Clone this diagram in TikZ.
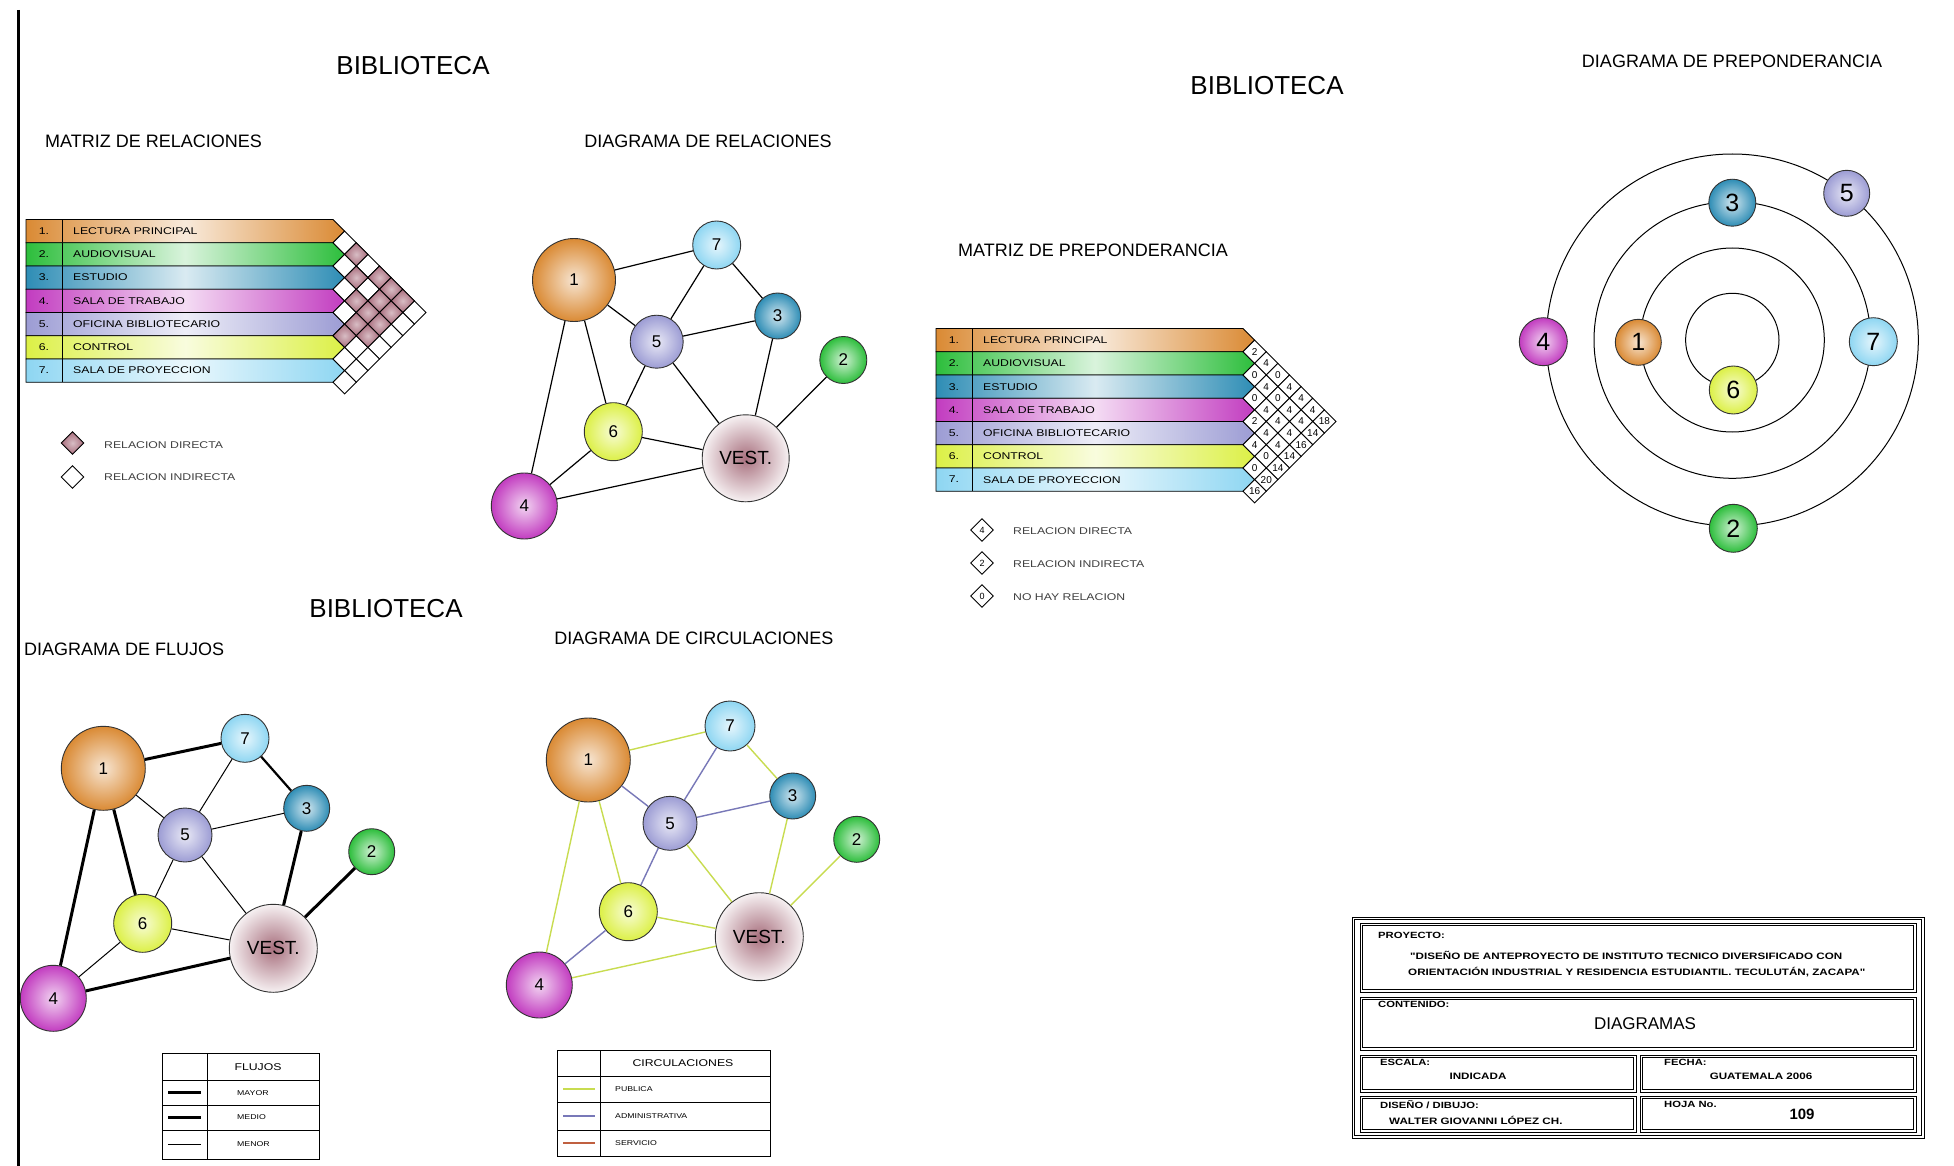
\documentclass[tikz,border=0pt]{standalone}
\usepackage{fontspec}
\setmainfont{Liberation Sans}
\newfontfamily\widefont[FakeStretch=1.25]{Liberation Sans}
\usetikzlibrary{shapes.geometric}
\definecolor{c1}{HTML}{DA8A34}
\definecolor{c2}{HTML}{2DBE3C}
\definecolor{c3}{HTML}{2E8DB5}
\definecolor{c4}{HTML}{C23CC0}
\definecolor{c5}{HTML}{9C9CD4}
\definecolor{c6}{HTML}{DCF046}
\definecolor{c7}{HTML}{8ED6F2}
\definecolor{vestc}{HTML}{A8707E}
\definecolor{pinkc}{HTML}{A86C7C}
\definecolor{pubc}{HTML}{C8DC50}
\definecolor{admc}{HTML}{7878B8}
\definecolor{serc}{HTML}{C06040}
\tikzset{
  ball/.style={circle, draw=black!80, line width=0.9pt, inner sep=0pt, inner color=#1!22!white, outer color=#1},
  vest/.style={circle, draw=black!80, line width=0.9pt, inner sep=0pt, inner color=vestc, outer color=vestc!10!white, font=\fontsize{19pt}{21pt}\selectfont},
  rnum/.style={font=\fontsize{17pt}{19pt}\selectfont},
  pnum/.style={font=\fontsize{25pt}{27pt}\selectfont},
  titletxt/.style={font=\fontsize{26pt}{30pt}\selectfont, inner sep=0pt},
  subtxt/.style={font=\fontsize{18pt}{21pt}\selectfont, inner sep=0pt},
  rowtxt/.style={font=\widefont\fontsize{9.8pt}{11pt}\selectfont, inner sep=0pt},
  legtxt/.style={font=\widefont\fontsize{9.8pt}{11pt}\selectfont, inner sep=0pt, text=black!75, anchor=west},
  tblline/.style={draw=black, line width=0.9pt},
  rel/.style={line width=1.2pt},
  mayor/.style={line width=3pt},
  medio/.style={line width=2.2pt},
  menor/.style={line width=1pt},
  pub/.style={draw=pubc, line width=1.4pt},
  adm/.style={draw=admc, line width=1.4pt},
  ser/.style={draw=serc, line width=1.4pt},
  tbline/.style={draw=black, line width=1pt},
  tbs/.style={font=\widefont\bfseries\fontsize{9pt}{10pt}\selectfont, inner sep=0pt, anchor=west},
  tbm/.style={font=\widefont\bfseries\fontsize{9.3pt}{11pt}\selectfont, inner sep=0pt},
  cellnum/.style={font=\fontsize{10pt}{11pt}\selectfont, inner sep=0pt},
  legdia/.style={diamond, draw=black, line width=0.9pt, minimum size=23pt, inner sep=0pt, aspect=1, font=\fontsize{9pt}{10pt}\selectfont},
  smalltxt/.style={font=\widefont\fontsize{7pt}{8pt}\selectfont, inner sep=0pt, anchor=west},
}
% row table: #1 left x, #2 top y, #3 name prefix
\newcommand{\rowtable}[3]{%
  \foreach \i/\nm/\cl in {1/LECTURA PRINCIPAL/c1, 2/AUDIOVISUAL/c2, 3/ESTUDIO/c3, 4/SALA DE TRABAJO/c4, 5/OFICINA BIBLIOTECARIO/c5, 6/CONTROL/c6, 7/SALA DE PROYECCION/c7}{
    \pgfmathsetmacro\yt{#2+(\i-1)*23.25}
    \pgfmathsetmacro\yb{\yt+23.25}
    \pgfmathsetmacro\ym{\yt+11.625}
    \pgfmathsetmacro\xr{#1+307}
    \pgfmathsetmacro\xt{\xr+11.625}
    \shade[left color=\cl, right color=\cl, middle color=\cl!18!white] (#1,\yt) -- (\xr,\yt) -- (\xt,\ym) -- (\xr,\yb) -- (#1,\yb) -- cycle;
    \draw[tblline] (#1,\yt) -- (\xr,\yt) -- (\xt,\ym) -- (\xr,\yb) -- (#1,\yb) -- cycle;
    \draw[tblline] (#1+36.7,\yt) -- (#1+36.7,\yb);
    \node[rowtxt] (#3n\i) at (#1+18,\ym) {\i.};
    \node[rowtxt, anchor=west] (#3t\i) at (#1+47,\ym) {\nm};
  }
}
% diamond grid: #1 x0, #2 top
\newcommand{\diagrid}[2]{%
  \foreach \i in {1,...,7}{
    \pgfmathtruncatemacro\js{\i+1}
    \foreach \j in {\js,...,8}{
      \pgfmathsetmacro\cx{#1+(\j-\i)*11.625}
      \pgfmathsetmacro\cy{#2+(\i+\j-1)*11.625}
      \draw[tblline, fill=white] (\cx-11.625,\cy) -- (\cx,\cy-11.625) -- (\cx+11.625,\cy) -- (\cx,\cy+11.625) -- cycle;
    }
  }
}
% double-lined box
\newcommand{\dbox}[4]{%
  \draw[tbline] (#1,#2) rectangle (#3,#4);
  \draw[tbline] (#1+2.6,#2+2.6) rectangle (#3-2.6,#4-2.6);
}
\begin{document}
\begin{tikzpicture}[x=1pt,y=-1pt]
\fill[white] (0,0) rectangle (1954,1166);
\useasboundingbox (0,0) rectangle (1954,1166);

\draw[line width=2.6pt] (18.5,10) -- (18.5,1166);

% titles
\node[titletxt] (t1) at (413,66) {BIBLIOTECA};
\node[titletxt] (t2) at (1267,86) {BIBLIOTECA};
\node[titletxt] (t3) at (386,609) {BIBLIOTECA};
\node[subtxt, anchor=west] (s1) at (45,141) {MATRIZ DE RELACIONES};
\node[subtxt] (s2) at (708,141) {DIAGRAMA DE RELACIONES};
\node[subtxt] (s3) at (1732,61) {DIAGRAMA DE PREPONDERANCIA};
\node[subtxt] (s4) at (1093,250.5) {MATRIZ DE PREPONDERANCIA};
\node[subtxt, anchor=west] (s5) at (24,649) {DIAGRAMA DE FLUJOS};
\node[subtxt] (s6) at (694,638) {DIAGRAMA DE CIRCULACIONES};

% ---------- matriz de relaciones ----------
\rowtable{26}{219.5}{ra}
\diagrid{333}{219.5}
\foreach \i/\j in {1/3,1/5,1/6,1/7,2/4,2/6,2/7,3/5,3/6,3/7,4/6,4/7,5/6}{
  \pgfmathsetmacro\cx{333+(\j-\i)*11.625}
  \pgfmathsetmacro\cy{219.5+(\i+\j-1)*11.625}
  \draw[tblline, inner color=pinkc!45!white, outer color=pinkc] (\cx-11.625,\cy) -- (\cx,\cy-11.625) -- (\cx+11.625,\cy) -- (\cx,\cy+11.625) -- cycle;
}
\node[legdia, inner color=pinkc!45!white, outer color=pinkc] (lg1) at (72.5,443) {};
\node[legdia] (lg2) at (72.5,477) {};
\node[legtxt] (lt1) at (104,445) {RELACION DIRECTA};
\node[legtxt] (lt2) at (104,477) {RELACION INDIRECTA};

% ---------- matriz de preponderancia ----------
\rowtable{936}{328.5}{pa}
\diagrid{1243}{328.5}
\foreach \i/\j/\v in {1/2/2,1/3/4,1/4/0,1/5/4,1/6/4,1/7/4,1/8/18,
  2/3/0,2/4/4,2/5/0,2/6/4,2/7/4,2/8/14,
  3/4/0,3/5/4,3/6/4,3/7/4,3/8/16,
  4/5/2,4/6/4,4/7/4,4/8/14,
  5/6/4,5/7/0,5/8/14,
  6/7/0,6/8/20,
  7/8/16}{
  \pgfmathsetmacro\cx{1243+(\j-\i)*11.625}
  \pgfmathsetmacro\cy{328.5+(\i+\j-1)*11.625}
  \node[cellnum] (pv\i\j) at (\cx,\cy) {\v};
}
\node[legdia] (pl1) at (982,530) {4};
\node[legdia] (pl2) at (982,563) {2};
\node[legdia] (pl3) at (982,596) {0};
\node[legtxt] (plt1) at (1013,531) {RELACION DIRECTA};
\node[legtxt] (plt2) at (1013,564) {RELACION INDIRECTA};
\node[legtxt] (plt3) at (1013,597) {NO HAY RELACION};

% ---------- diagrama de relaciones ----------
\node[ball=c1, minimum size=83pt, rnum] (r1) at (574,280) {1};
\node[ball=c7, minimum size=48pt, rnum] (r7) at (716.7,245) {7};
\node[ball=c3, minimum size=46pt, rnum] (r3) at (777.7,316) {3};
\node[ball=c5, minimum size=53pt, rnum] (r5) at (656.7,341.7) {5};
\node[ball=c2, minimum size=47pt, rnum] (r2) at (843.3,360) {2};
\node[ball=c6, minimum size=58pt, rnum] (r6) at (613.3,431.7) {6};
\node[vest, minimum size=87pt] (rv) at (745.7,458.3) {VEST.};
\node[ball=c4, minimum size=66pt, rnum] (r4) at (524.3,506) {4};
\foreach \a/\b in {r1/r7,r1/r5,r1/r6,r1/r4,r7/r5,r7/r3,r5/r3,r5/r6,r5/rv,r3/rv,r2/rv,r6/rv,r6/r4,r4/rv}
  \draw[rel] (\a) -- (\b);

% ---------- diagrama de flujos ----------
\node[ball=c1, minimum size=84pt, rnum] (f1) at (103.3,768.3) {1};
\node[ball=c7, minimum size=48pt, rnum] (f7) at (245,738.3) {7};
\node[ball=c3, minimum size=46pt, rnum] (f3) at (306.7,808.3) {3};
\node[ball=c5, minimum size=54pt, rnum] (f5) at (185,835) {5};
\node[ball=c2, minimum size=46pt, rnum] (f2) at (371.7,851.7) {2};
\node[ball=c6, minimum size=58pt, rnum] (f6) at (142.7,923.3) {6};
\node[vest, minimum size=88pt] (fv) at (273.3,948.3) {VEST.};
\node[ball=c4, minimum size=66pt, rnum] (f4) at (53.3,998.3) {4};
\foreach \a/\b in {f1/f7,f1/f4,f1/f6,f3/fv,fv/f2,fv/f4}
  \draw[mayor] (\a) -- (\b);
\foreach \a/\b in {f7/f3}
  \draw[medio] (\a) -- (\b);
\foreach \a/\b in {f1/f5,f7/f5,f5/f3,f5/f6,f5/fv,f6/fv,f6/f4}
  \draw[menor] (\a) -- (\b);

% ---------- diagrama de circulaciones ----------
\node[ball=c1, minimum size=84pt, rnum] (ci1) at (588.3,760) {1};
\node[ball=c7, minimum size=50pt, rnum] (ci7) at (730,726) {7};
\node[ball=c3, minimum size=46pt, rnum] (ci3) at (792.7,796) {3};
\node[ball=c5, minimum size=54pt, rnum] (ci5) at (670,823.3) {5};
\node[ball=c2, minimum size=46pt, rnum] (ci2) at (856.7,839.3) {2};
\node[ball=c6, minimum size=58pt, rnum] (ci6) at (628.3,911.7) {6};
\node[vest, minimum size=88pt] (civ) at (759.3,936.7) {VEST.};
\node[ball=c4, minimum size=66pt, rnum] (ci4) at (539.3,985) {4};
\foreach \a/\b in {ci1/ci7,ci7/ci3,ci1/ci6,ci1/ci4,ci5/civ,ci3/civ,ci2/civ,ci6/civ,ci4/civ}
  \draw[pub] (\a) -- (\b);
\foreach \a/\b in {ci1/ci5,ci7/ci5,ci5/ci3,ci5/ci6,ci6/ci4}
  \draw[adm] (\a) -- (\b);

% ---------- diagrama de preponderancia ----------
\coordinate (pc) at (1732.3,340);
\foreach \r in {46.7,92,138.3,186}
  \draw[line width=1pt] (pc) circle[radius=\r];
\node[ball=c3, minimum size=47pt, pnum] (p3) at (1732.3,202.7) {3};
\node[ball=c5, minimum size=46pt, pnum] (p5) at (1846.7,193.3) {5};
\node[ball=c4, minimum size=48pt, pnum] (p4) at (1543.3,341.7) {4};
\node[ball=c1, minimum size=46pt, pnum] (p1) at (1638.3,342.3) {1};
\node[ball=c7, minimum size=48pt, pnum] (p7) at (1873.3,341.7) {7};
\node[ball=c6, minimum size=48pt, pnum] (p6) at (1733.3,390) {6};
\node[ball=c2, minimum size=48pt, pnum] (p2) at (1733.3,528.3) {2};

% ---------- tabla flujos ----------
\draw[tblline] (162,1053) rectangle (319,1159);
\draw[tblline] (207,1053) -- (207,1159);
\foreach \y in {1080.5,1105,1130} \draw[tblline] (162,\y) -- (319,\y);
\node[rowtxt] (fh) at (258,1067) {FLUJOS};
\draw[mayor] (168,1092.7) -- (201,1092.7);
\draw[medio] (168,1117.5) -- (201,1117.5);
\draw[menor] (168,1144.5) -- (201,1144.5);
\node[smalltxt] (fm1) at (237,1092.7) {MAYOR};
\node[smalltxt] (fm2) at (237,1117.5) {MEDIO};
\node[smalltxt] (fm3) at (237,1144.5) {MENOR};

% ---------- tabla circulaciones ----------
\draw[tblline] (557,1050) rectangle (770,1156);
\draw[tblline] (600,1050) -- (600,1156);
\foreach \y in {1076,1102.5,1130} \draw[tblline] (557,\y) -- (770,\y);
\node[rowtxt] (ch) at (683,1063) {CIRCULACIONES};
\draw[pub] (563,1089) -- (595,1089);
\draw[adm] (563,1116) -- (595,1116);
\draw[ser] (563,1143) -- (595,1143);
\node[smalltxt] (cm1) at (615,1089) {PUBLICA};
\node[smalltxt] (cm2) at (615,1116) {ADMINISTRATIVA};
\node[smalltxt] (cm3) at (615,1143) {SERVICIO};

% ---------- cajetin ----------
\dbox{1352}{917}{1924}{1138}
\dbox{1360}{923}{1916}{992}
\dbox{1360}{997}{1916}{1050}
\dbox{1360}{1055}{1636}{1092}
\dbox{1640}{1055}{1916}{1092}
\dbox{1360}{1096}{1636}{1132}
\dbox{1640}{1096}{1916}{1132}
\node[tbs] (pj) at (1378,935) {PROYECTO:};
\node[tbm, anchor=west] (pj1) at (1410,955) {"DISEÑO DE ANTEPROYECTO DE INSTITUTO TECNICO DIVERSIFICADO CON};
\node[tbm, anchor=west] (pj2) at (1408,972) {ORIENTACIÓN INDUSTRIAL Y RESIDENCIA ESTUDIANTIL. TECULUTÁN, ZACAPA"};
\node[tbs] (ct) at (1378,1004) {CONTENIDO:};
\node[font=\fontsize{17pt}{19pt}\selectfont, inner sep=0pt] (dg) at (1645,1024) {DIAGRAMAS};
\node[tbs] (es) at (1380,1062) {ESCALA:};
\node[tbm] (esv) at (1478,1076) {INDICADA};
\node[tbs] (fe) at (1664,1062) {FECHA:};
\node[tbm] (fev) at (1761,1076) {GUATEMALA 2006};
\node[tbs] (di) at (1380,1105) {DISEÑO / DIBUJO:};
\node[tbm, anchor=west] (div) at (1389,1120) {WALTER GIOVANNI LÓPEZ CH.};
\node[tbs] (ho) at (1664,1104) {HOJA No.};
\node[font=\bfseries\fontsize{15pt}{17pt}\selectfont, inner sep=0pt] (hov) at (1802,1114) {109};
\end{tikzpicture}
\end{document}
